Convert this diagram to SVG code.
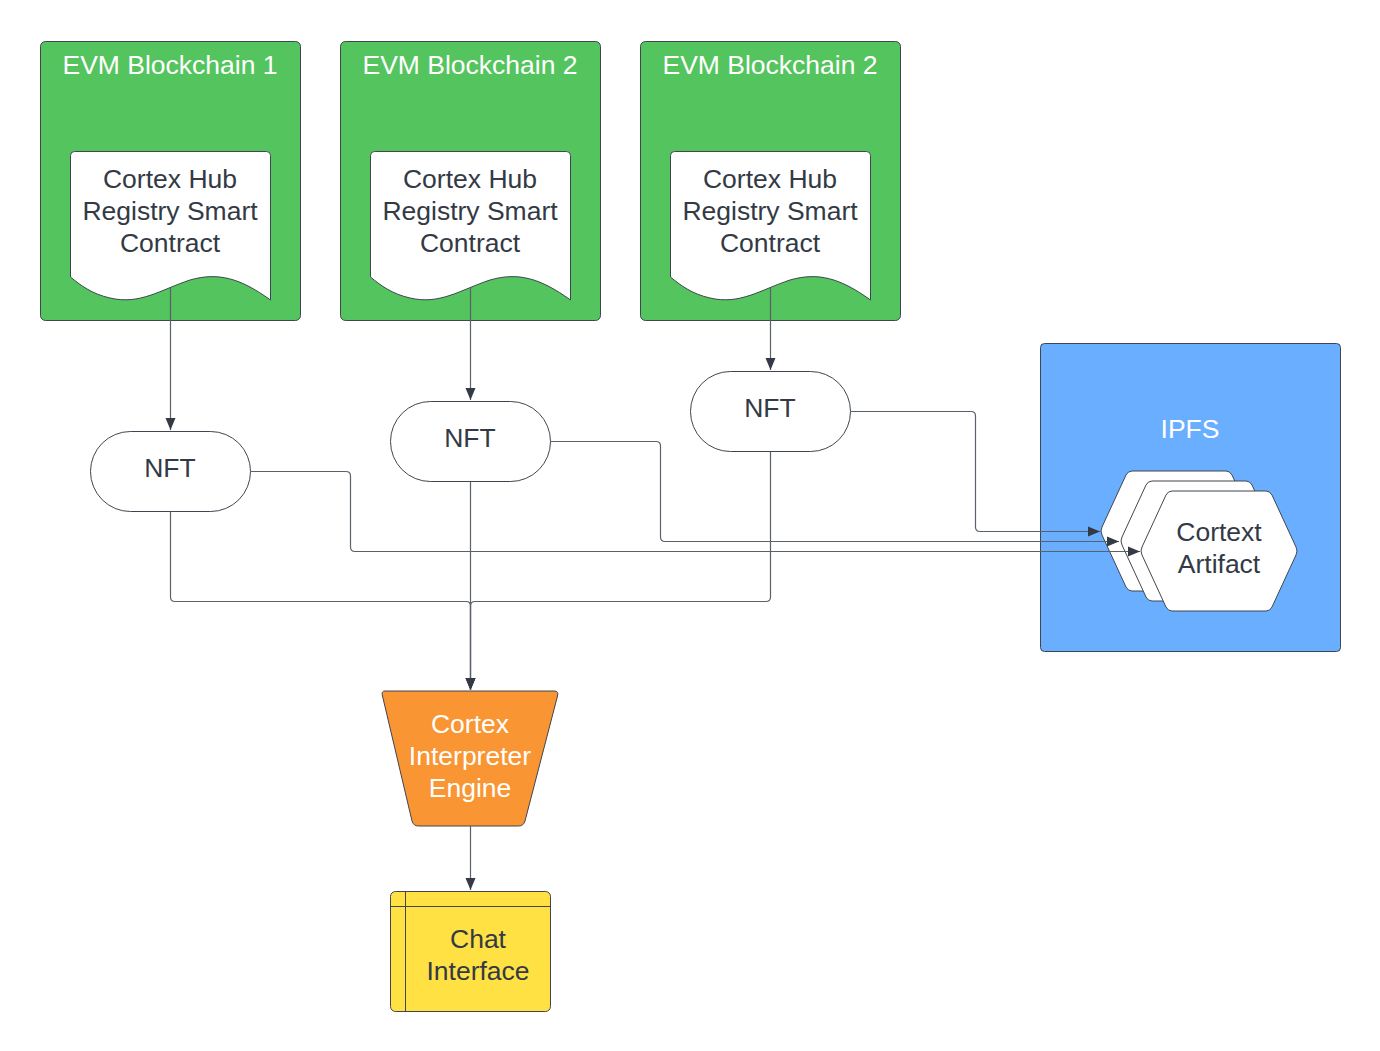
<svg xmlns="http://www.w3.org/2000/svg" width="1380" height="1051" viewBox="0 0 1380 1051">
<defs>
<marker id="arr" markerUnits="userSpaceOnUse" markerWidth="14" markerHeight="12" refX="12" refY="6" orient="auto">
<path d="M0,1 L12,6 L0,11 z" fill="#333A45"/>
</marker>
<style>
.t{font-family:"Liberation Sans",Arial,sans-serif;font-size:26.5px;text-anchor:middle;fill:#333A45}
.w{fill:#ffffff}
.chain{fill:#54C45E;stroke:#3F4650;stroke-width:1}
.doc{fill:#ffffff;stroke:#3F4650;stroke-width:1}
.node{fill:#ffffff;stroke:#3F4650;stroke-width:1}
.con{fill:none;stroke:#5A616B;stroke-width:1.2}
</style>
</defs>
<rect width="1380" height="1051" fill="#ffffff"/>

<g id="chain1">
<rect class="chain" x="40.5" y="41.5" width="260" height="279" rx="5"/>
<text class="t w" x="170" y="74">EVM Blockchain 1</text>
</g>
<g id="chain2">
<rect class="chain" x="340.5" y="41.5" width="260" height="279" rx="5"/>
<text class="t w" x="470" y="74">EVM Blockchain 2</text>
</g>
<g id="chain3">
<rect class="chain" x="640.5" y="41.5" width="260" height="279" rx="5"/>
<text class="t w" x="770" y="74">EVM Blockchain 2</text>
</g>

<g id="doc1">
<path class="doc" d="M70.5,155.5 Q70.5,151.5 74.5,151.5 H266.5 Q270.5,151.5 270.5,155.5 V300 C240,278 218,272 190,280 C160,290 140,305 110,298 C92,294 80,285 70.5,277 Z"/>
<text class="t" x="170" y="188">Cortex Hub</text>
<text class="t" x="170" y="220">Registry Smart</text>
<text class="t" x="170" y="252">Contract</text>
</g>
<g id="doc2">
<path class="doc" d="M370.5,155.5 Q370.5,151.5 374.5,151.5 H566.5 Q570.5,151.5 570.5,155.5 V300 C540,278 518,272 490,280 C460,290 440,305 410,298 C392,294 380,285 370.5,277 Z"/>
<text class="t" x="470" y="188">Cortex Hub</text>
<text class="t" x="470" y="220">Registry Smart</text>
<text class="t" x="470" y="252">Contract</text>
</g>
<g id="doc3">
<path class="doc" d="M670.5,155.5 Q670.5,151.5 674.5,151.5 H866.5 Q870.5,151.5 870.5,155.5 V300 C840,278 818,272 790,280 C760,290 740,305 710,298 C692,294 680,285 670.5,277 Z"/>
<text class="t" x="770" y="188">Cortex Hub</text>
<text class="t" x="770" y="220">Registry Smart</text>
<text class="t" x="770" y="252">Contract</text>
</g>

<g id="nft1">
<rect class="node" x="90.5" y="431.5" width="160" height="80" rx="40"/>
<text class="t" x="170" y="477">NFT</text>
</g>
<g id="nft2">
<rect class="node" x="390.5" y="401.5" width="160" height="80" rx="40"/>
<text class="t" x="470" y="447">NFT</text>
</g>
<g id="nft3">
<rect class="node" x="690.5" y="371.5" width="160" height="80" rx="40"/>
<text class="t" x="770" y="417">NFT</text>
</g>

<g id="ipfs">
<rect x="1040.5" y="343.5" width="300" height="308" rx="4" fill="#6AAFFF" stroke="#3F4650" stroke-width="1"/>
<text class="t w" x="1190" y="438">IPFS</text>
<path class="node" d="M1102,527 L1126,475 Q1128,471 1132,471 H1226 Q1230,471 1232,475 L1256,527 Q1258,531 1256,535 L1232,587 Q1230,591 1226,591 H1132 Q1128,591 1126,587 L1102,535 Q1100,531 1102,527 Z"/>
<path class="node" d="M1122,537 L1146,485 Q1148,481 1152,481 H1246 Q1250,481 1252,485 L1276,537 Q1278,541 1276,545 L1252,597 Q1250,601 1246,601 H1152 Q1148,601 1146,597 L1122,545 Q1120,541 1122,537 Z"/>
<path class="node" d="M1142,547 L1166,495 Q1168,491 1172,491 H1266 Q1270,491 1272,495 L1296,547 Q1298,551 1296,555 L1272,607 Q1270,611 1266,611 H1172 Q1168,611 1166,607 L1142,555 Q1140,551 1142,547 Z"/>
<text class="t" x="1219" y="541">Cortext</text>
<text class="t" x="1219" y="573">Artifact</text>
</g>

<g id="engine">
<path d="M385,691 H554 Q559,691 557.5,696 L525,821 Q523.5,826 518.5,826 H418.5 Q413.5,826 412,821 L382.5,696 Q381,691 385,691 Z" fill="#F99533" stroke="#3F4650" stroke-width="1"/>
<text class="t w" x="470" y="733">Cortex</text>
<text class="t w" x="470" y="765">Interpreter</text>
<text class="t w" x="470" y="797">Engine</text>
</g>

<g id="chat">
<rect x="390.5" y="891.5" width="160" height="120" rx="5" fill="#FFE143" stroke="#3F4650" stroke-width="1"/>
<line x1="405.5" y1="891.5" x2="405.5" y2="1011.5" stroke="#3F4650" stroke-width="1"/>
<line x1="390.5" y1="906.5" x2="550.5" y2="906.5" stroke="#3F4650" stroke-width="1"/>
<text class="t" x="478" y="948">Chat</text>
<text class="t" x="478" y="980">Interface</text>
</g>

<g id="connectors">
<path class="con" d="M170.5,288 V430" marker-end="url(#arr)"/>
<path class="con" d="M470.5,288 V400" marker-end="url(#arr)"/>
<path class="con" d="M770.5,288 V370" marker-end="url(#arr)"/>
<path class="con" d="M850.5,411.5 H971 Q975.5,411.5 975.5,416 V527 Q975.5,531.5 980,531.5 H1100" marker-end="url(#arr)"/>
<path class="con" d="M550.5,441.5 H656 Q660.5,441.5 660.5,446 V537 Q660.5,541.5 665,541.5 H1119" marker-end="url(#arr)"/>
<path class="con" d="M250.5,471.5 H346 Q350.5,471.5 350.5,476 V547 Q350.5,551.5 355,551.5 H1140" marker-end="url(#arr)"/>
<path class="con" d="M170.5,511.5 V597 Q170.5,601.5 175,601.5 H466 Q470.5,601.5 470.5,606 V690" marker-end="url(#arr)"/>
<path class="con" d="M770.5,451.5 V597 Q770.5,601.5 766,601.5 H475 Q470.5,601.5 470.5,606 V690" marker-end="url(#arr)"/>
<path class="con" d="M470.5,481.5 V690" marker-end="url(#arr)"/>
<path class="con" d="M470.5,826 V890" marker-end="url(#arr)"/>
</g>
</svg>
